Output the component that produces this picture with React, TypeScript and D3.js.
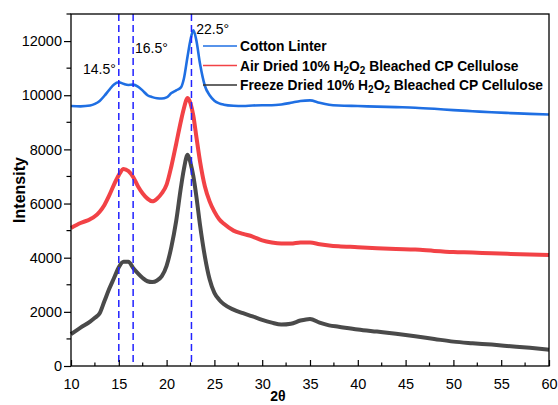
import React, { useRef, useEffect } from 'react';
import * as d3 from 'd3';

const theta = [10, 11, 12, 12.5, 13, 13.5, 14, 14.5, 15, 15.5, 16, 16.5, 17, 17.5, 18, 18.5, 19, 19.5, 20, 20.5,
  21, 21.5, 21.8, 22.2, 22.5, 22.8, 23.1, 23.5, 24, 24.5, 25, 25.5, 26, 27, 28, 29, 30, 31, 32, 33, 34, 35, 36,
  37, 38, 40, 42, 44, 46, 48, 50, 52, 54, 56, 58, 60];

const cottonLinter = [9600, 9590, 9620, 9680, 9790, 9980, 10200, 10400, 10480, 10420, 10380, 10390, 10320, 10170,
  10000, 9930, 9890, 9880, 9920, 10080, 10180, 10290, 10600, 11450, 12050, 12400, 12050, 11150, 10350, 10000, 9800,
  9700, 9650, 9610, 9600, 9620, 9630, 9630, 9660, 9720, 9790, 9810, 9720, 9650, 9620, 9600, 9580, 9560, 9540, 9500,
  9450, 9410, 9370, 9340, 9310, 9290];

const airDried = [5100, 5280, 5420, 5530, 5700, 5950, 6300, 6700, 7050, 7280, 7200, 6980, 6640, 6370, 6180, 6080,
  6180, 6380, 6700, 7380, 8200, 9050, 9500, 9900, 9700, 9235, 8500, 7550, 6640, 6080, 5700, 5420, 5250, 5000, 4880,
  4780, 4640, 4560, 4520, 4520, 4560, 4560, 4500, 4450, 4420, 4390, 4350, 4320, 4300, 4250, 4210, 4190, 4160, 4140,
  4120, 4100];

const freezeDried = [1180, 1420, 1640, 1780, 1950, 2400, 2850, 3250, 3650, 3850, 3850, 3620, 3420, 3250, 3130, 3100,
  3160, 3320, 3700, 4400, 5350, 6600, 7250, 7800, 7500, 7000, 6300, 5200, 4050, 3200, 2700, 2450, 2280, 2080, 1950,
  1830, 1700, 1600, 1530, 1560, 1680, 1740, 1600, 1500, 1450, 1350, 1270, 1190, 1100, 1000, 900, 840, 790, 730,
  670, 600];

const seriesNames = ['Cotton Linter', 'Air Dried 10% H2O2 Bleached CP Cellulose', 'Freeze Dried 10% H2O2 Bleached CP Cellulose'];
const seriesColors = ['#1f6fe3', '#f24246', '#4a4a4a'];

const peakLines = [15, 16.5, 22.6];
const peakLabels = [
  { text: '14.5°', at: 11.25, value: 10780 },
  { text: '16.5°', at: 16.7, value: 11560 },
  { text: '22.5°', at: 23.1, value: 12260 },
];

const xTicks = [10, 15, 20, 25, 30, 35, 40, 45, 50, 55, 60];
const yTicks = [0, 2000, 4000, 6000, 8000, 10000, 12000];

export default function App() {
  const ref = useRef<SVGSVGElement>(null);

  useEffect(() => {
    const svg = d3.select(ref.current);
    svg.selectAll('*').remove();
    const width = 558, height = 405;
    const m = { left: 71, right: 9, top: 14, bottom: 39 };
    const font = '"Liberation Sans", Arial, sans-serif';

    const x = d3.scaleLinear().domain([10, 60]).range([m.left, width - m.right]);
    const y = d3.scaleLinear().domain([0, 13000]).range([height - m.bottom, m.top]);

    const line = d3.line<number>()
      .x((_, i) => x(theta[i]))
      .y(d => y(d))
      .curve(d3.curveMonotoneX);

    const all = [cottonLinter, airDried, freezeDried];
    const widths = [2.6, 4, 4];
    [2, 1, 0].forEach(k => {
      svg.append('path')
        .attr('d', line(all[k]))
        .attr('fill', 'none')
        .attr('stroke', seriesColors[k])
        .attr('stroke-width', widths[k])
        .attr('stroke-linejoin', 'round');
    });

    // dashed peak markers
    svg.selectAll('.peak')
      .data(peakLines)
      .join('line')
      .attr('x1', d => x(d)).attr('x2', d => x(d))
      .attr('y1', m.top).attr('y2', height - m.bottom)
      .attr('stroke', '#2222ff')
      .attr('stroke-width', 1.5)
      .attr('stroke-dasharray', '7,4');

    svg.selectAll('.plabel')
      .data(peakLabels)
      .join('text')
      .attr('x', d => x(d.at))
      .attr('y', d => y(d.value))
      .attr('font-family', font)
      .attr('font-size', 14)
      .text(d => d.text);

    // frame
    svg.append('rect')
      .attr('x', m.left).attr('y', m.top)
      .attr('width', width - m.left - m.right)
      .attr('height', height - m.top - m.bottom)
      .attr('fill', 'none')
      .attr('stroke', '#000')
      .attr('stroke-width', 1.3);

    // x axis, ticks inward
    const gx = svg.append('g')
      .attr('transform', `translate(0,${height - m.bottom})`)
      .call(d3.axisBottom(x).tickValues(xTicks).tickSizeInner(-6).tickSizeOuter(0).tickPadding(13));
    gx.select('.domain').remove();
    gx.selectAll('text').attr('font-family', font).attr('font-size', 14.5).attr('fill', '#000');
    gx.selectAll('line').attr('stroke-width', 1.2);
    gx.selectAll('.minor')
      .data(xTicks.slice(0, -1).map(d => d + 2.5))
      .join('line')
      .attr('x1', d => x(d)).attr('x2', d => x(d))
      .attr('y1', 0).attr('y2', -3.5)
      .attr('stroke', '#000').attr('stroke-width', 1.2);

    // y axis, ticks outward
    const gy = svg.append('g')
      .attr('transform', `translate(${m.left},0)`)
      .call(d3.axisLeft(y).tickValues(yTicks).tickSizeInner(7).tickSizeOuter(0).tickPadding(2).tickFormat(d3.format('d')));
    gy.select('.domain').remove();
    gy.selectAll('text').attr('font-family', font).attr('font-size', 14.5).attr('fill', '#000');
    gy.selectAll('line').attr('stroke-width', 1.2);
    gy.selectAll('.minor')
      .data(yTicks.map(d => d + 1000))
      .join('line')
      .attr('x1', 0).attr('x2', -4.5)
      .attr('y1', d => y(d)).attr('y2', d => y(d))
      .attr('stroke', '#000').attr('stroke-width', 1.2);

    // axis titles
    svg.append('text')
      .attr('transform', `translate(25,${(m.top + height - m.bottom) / 2}) rotate(-90)`)
      .attr('text-anchor', 'middle')
      .attr('font-family', font).attr('font-size', 16).attr('font-weight', 'bold')
      .text('Intensity');
    svg.append('text')
      .attr('x', 278)
      .attr('y', 401)
      .attr('text-anchor', 'middle')
      .attr('font-family', font).attr('font-size', 14).attr('font-weight', 'bold')
      .text('2θ');

    // legend
    const lg = svg.append('g').attr('transform', 'translate(203,46)');
    seriesNames.forEach((name, i) => {
      const row = lg.append('g').attr('transform', `translate(0,${i * 19.5})`);
      row.append('line')
        .attr('x1', 0).attr('x2', 34).attr('y1', 0).attr('y2', 0)
        .attr('stroke', i === 2 ? '#333' : seriesColors[i]).attr('stroke-width', 1.6);
      const t = row.append('text')
        .attr('x', 37).attr('y', 5)
        .attr('font-family', font).attr('font-size', 13.8).attr('font-weight', 'bold');
      const parts = name.split('H2O2');
      t.append('tspan').text(parts[0]);
      if (parts.length > 1) {
        t.append('tspan').text('H');
        t.append('tspan').attr('dy', 3).attr('font-size', 10).text('2');
        t.append('tspan').attr('dy', -3).text('O');
        t.append('tspan').attr('dy', 3).attr('font-size', 10).text('2');
        t.append('tspan').attr('dy', -3).text(parts[1]);
      }
    });
  }, []);

  return (
    <svg ref={ref} width={558} height={405} role="img" aria-label="XRD patterns"
      style={{ position: 'absolute', left: 0, top: 0, background: '#fff' }} />
  );
}
